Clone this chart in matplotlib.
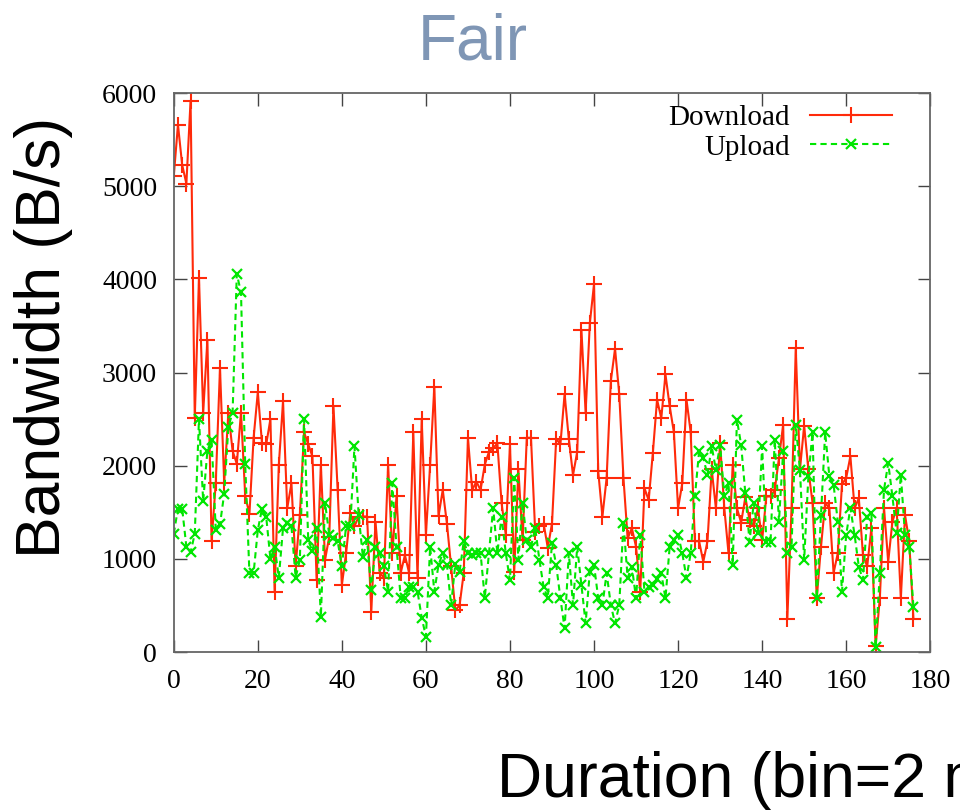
import numpy as np
import matplotlib
matplotlib.use('Agg')
import matplotlib.pyplot as plt

# Значения (по одному на каждый бин)
download = [
    5110, 5660, 5230, 5030, 5920, 2510, 4020, 2570, 3350, 1190,
    1820, 3050, 1820, 2570, 2160, 2020, 2570, 1680, 1480, 2300,
    2790, 2240, 2230, 2500, 650, 2010, 2690, 1545, 1810, 920,
    1470, 2360, 2230, 2100, 770, 2010, 990, 1240, 2640, 1740,
    720, 1060, 1490, 1350, 1455, 1455, 1455, 434, 1400, 850,
    800, 2010, 1060, 1670, 850, 1040, 850, 2360, 800, 2500,
    1260, 2010, 2850, 1460, 1740, 1380, 920, 450, 500, 850,
    2300, 1740, 1830, 1740, 2010, 2150, 2190, 2240, 1600, 1260,
    2230, 860, 1960, 1200, 2300, 2300, 1290, 1350, 1380, 1120,
    1380, 2290, 2230, 2770, 2290, 1900, 2150, 3460, 2570, 3530,
    3950, 1940, 1455, 1870, 2910, 3255, 2770, 1870, 1220, 1330,
    1130, 650, 1760, 1630, 2140, 2710, 2510, 2980, 2640, 2360,
    1545, 1810, 2710, 2360, 1190, 1190, 970, 1190, 1960, 1545,
    2240, 1545, 1060, 2010, 1545, 1390, 1660, 1420, 1350, 1545,
    1200, 1670, 1670, 1740, 2080, 2440, 360, 1545, 3265, 1960,
    2430, 1960, 1600, 577, 1130, 1600, 1545, 850, 1060, 1800,
    1870, 2100, 1545, 1650, 1040, 920, 1330, 60, 577, 1545,
    970, 1400, 1545, 577, 1470, 1190, 360,
]

upload = [
    1270, 1540, 1540, 1130, 1070, 1270, 2500, 1620, 2160, 2280,
    1310, 1370, 1700, 2420, 2570, 4060, 3860, 2020, 850, 850,
    1310, 1540, 1450, 1000, 1130, 800, 1330, 1390, 1350, 800,
    990, 2500, 1200, 1080, 1330, 380, 1600, 1260, 1220, 1190,
    920, 1350, 1350, 2210, 1470, 1020, 1200, 670, 1130, 1060,
    920, 650, 1810, 1130, 580, 580, 700, 700, 650, 370,
    165, 1130, 650, 935, 1060, 935, 505, 950, 860, 1190,
    1060, 1040, 1060, 1060, 580, 1060, 1545, 1060, 1455, 1060,
    770, 1870, 990, 1600, 1200, 1130, 1330, 990, 700, 580,
    1170, 935, 577, 254, 1060, 505, 1130, 720, 308, 864,
    935, 577, 505, 846, 505, 308, 505, 1384, 796, 917,
    577, 1258, 649, 700, 720, 780, 846, 577, 1133, 1204,
    1258, 1061, 796, 1061, 1670, 2154, 2082, 1903, 2208, 1957,
    2226, 1670, 1814, 935, 2495, 2226, 1706, 1186, 1599, 1276,
    2208, 1186, 1186, 2279, 1401, 2154, 1061, 1133, 2441, 1957,
    989, 1885, 2358, 577, 1473, 2358, 1885, 1796, 1401, 649,
    1258, 1545, 1258, 917, 774, 1455, 1491, 50, 846, 1742,
    2029, 1670, 1276, 1903, 1258, 1133, 487,
]

x_ticks = list(range(0, 181, 20))
y_ticks = list(range(0, 6001, 1000))

bins = np.arange(len(download))

fig = plt.figure(figsize=(9.6, 8.1), dpi=100)
ax = fig.add_axes([0.181, 0.195, 0.788, 0.690])

# Сначала загрузка, потом выгрузка (зеленая поверх красной, как в gnuplot)
ax.plot(bins, download, color='#ff2a0a', linewidth=1.5, marker='+',
        markersize=11, markeredgewidth=1.5, label='Download')
ax.plot(bins, upload, color='#00e600', linewidth=1.5, linestyle=(0, (3, 2)),
        marker='x', markersize=7, markeredgewidth=1.6, label='Upload')

ax.set_xlim(0, 180)
ax.set_ylim(0, 6000)
ax.set_xticks(x_ticks)
ax.set_yticks(y_ticks)
ax.tick_params(direction='in', length=9, width=1, top=True, right=True,
               labelsize=20, pad=12, colors='#444444', labelcolor='black')
for lbl in ax.get_xticklabels() + ax.get_yticklabels():
    lbl.set_family('Liberation Serif')
for sp in ax.spines.values():
    sp.set_color('#666666')
    sp.set_linewidth(1.3)

leg = ax.legend(loc='upper right', bbox_to_anchor=(0.965, 1.0),
                frameon=False, markerfirst=False, handlelength=2.8,
                numpoints=1, borderaxespad=0.0, labelspacing=0.1,
                handletextpad=0.7,
                prop={'family': 'Liberation Serif', 'size': 21})
for t in leg.get_texts():
    t.set_ha('right')

# Подписи крупным шрифтом без засечек
fig.text(0.492, 0.947, 'Fair', ha='center', va='center', fontsize=46,
         color='#7f96b5', family='Liberation Sans')
fig.text(0.045, 0.584, 'Bandwidth (B/s)', ha='center', va='center',
         rotation=90, fontsize=45, family='Liberation Sans')
fig.text(0.518, 0.016, 'Duration (bin=2 min)', ha='left', va='baseline',
         fontsize=45, family='Liberation Sans')

fig.savefig('out.png', dpi=100)
